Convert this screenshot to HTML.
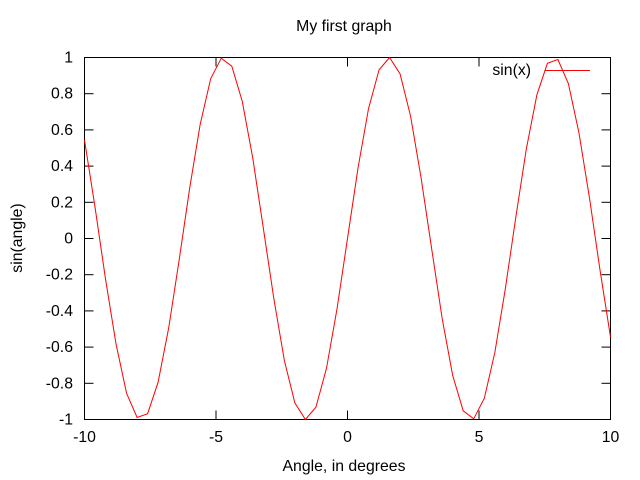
<!DOCTYPE html>
<html><head><meta charset="utf-8"><style>
html,body{margin:0;padding:0;background:#fff;}
svg{display:block;font-family:"Liberation Sans",Arial,sans-serif;font-size:15.8px;}
</style></head><body>
<svg id="chart" width="640" height="480">
<rect width="640" height="480" fill="#fff"/>
<text x="344" y="31" text-anchor="middle">My first graph</text>
<text x="344" y="471" text-anchor="middle">Angle, in degrees</text>
<text transform="translate(22,238) rotate(-90)" text-anchor="middle">sin(angle)</text>
<g id="ticks"></g>
<rect x="84.5" y="57.5" width="526" height="362" fill="none" stroke="#000"/>
<text x="531" y="75" text-anchor="end">sin(x)</text>
<line x1="545" y1="70.5" x2="590" y2="70.5" stroke="#f00"/>
<polyline id="series" fill="none" stroke="#f00" stroke-width="1"/>
</svg>
<script>
const xValues = [-10,-9.6,-9.2,-8.8,-8.4,-8,-7.6,-7.2,-6.8,-6.4,-6,-5.6,-5.2,-4.8,-4.4,-4,-3.6,-3.2,-2.8,-2.4,-2,-1.6,-1.2,-0.8,-0.4,0,0.4,0.8,1.2,1.6,2,2.4,2.8,3.2,3.6,4,4.4,4.8,5.2,5.6,6,6.4,6.8,7.2,7.6,8,8.4,8.8,9.2,9.6,10];
const yValues = [0.544,0.174,-0.223,-0.585,-0.855,-0.989,-0.968,-0.794,-0.494,-0.117,0.279,0.631,0.883,0.996,0.952,0.757,0.443,0.058,-0.335,-0.675,-0.909,-1.000,-0.932,-0.717,-0.389,0,0.389,0.717,0.932,1.000,0.909,0.675,0.335,-0.058,-0.443,-0.757,-0.952,-0.996,-0.883,-0.631,-0.279,0.117,0.494,0.794,0.968,0.989,0.855,0.585,0.223,-0.174,-0.544];
const xTicks = [-10,-5,0,5,10];
const xTickLabels = ["-10","-5","0","5","10"];
const yTicks = [-1,-0.8,-0.6,-0.4,-0.2,0,0.2,0.4,0.6,0.8,1];
const yTickLabels = ["-1","-0.8","-0.6","-0.4","-0.2","0","0.2","0.4","0.6","0.8","1"];

const L=84.5,R=610.5,T=57.5,B=419.5;
function sx(v){return L+(v+10)/20*(R-L);}
function sy(v){return B-(v+1)/2*(B-T);}
const NS="http://www.w3.org/2000/svg";
const g=document.getElementById('ticks');
function mk(tag,attrs){const e=document.createElementNS(NS,tag);for(const k in attrs)e.setAttribute(k,attrs[k]);return e;}
xTicks.forEach((v,i)=>{
  const x=sx(v);
  const t1=mk('line',{x1:x,y1:B,x2:x,y2:B-9,stroke:'#000'});
  
  
  g.appendChild(t1);
  const t2=mk('line',{x1:x,y1:T,x2:x,y2:T+9,stroke:'#000'});
  
  
  g.appendChild(t2);
  const tx=mk('text',{x:x,y:442,'text-anchor':'middle'});
  tx.textContent=xTickLabels[i];
  
  
  g.appendChild(tx);
});
yTicks.forEach((v,i)=>{
  const y=sy(v);
  const t1=mk('line',{x1:L,y1:y,x2:L+9,y2:y,stroke:'#000'});
  
  
  g.appendChild(t1);
  const t2=mk('line',{x1:R,y1:y,x2:R-9,y2:y,stroke:'#000'});
  
  
  g.appendChild(t2);
  const tx=mk('text',{x:73,y:y+5,'text-anchor':'end'});
  tx.textContent=yTickLabels[i];
  
  
  g.appendChild(tx);
});
document.getElementById('series').setAttribute('points',xValues.map((x,i)=>sx(x).toFixed(1)+','+sy(yValues[i]).toFixed(1)).join(' '));
</script>
</body></html>
